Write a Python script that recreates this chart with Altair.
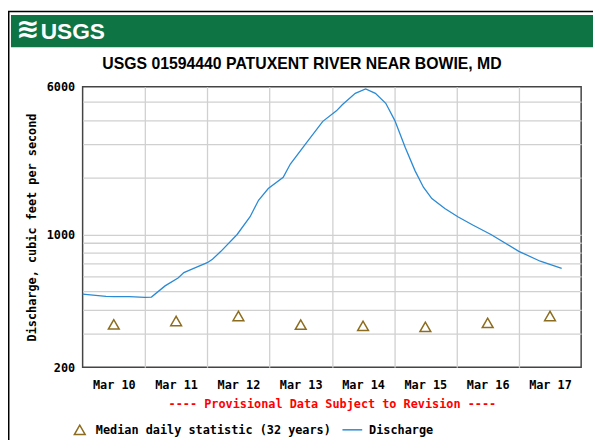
import altair as alt
import pandas as pd

# ---------------- data ----------------
FLOW_TIMES = [
    "2019-03-10T00:00Z", "2019-03-10T09:00Z", "2019-03-10T12:00Z", "2019-03-10T18:00Z",
    "2019-03-11T00:00Z", "2019-03-11T02:30Z", "2019-03-11T07:45Z", "2019-03-11T12:45Z",
    "2019-03-11T15:00Z", "2019-03-11T19:00Z", "2019-03-12T00:00Z", "2019-03-12T02:00Z",
    "2019-03-12T05:15Z", "2019-03-12T11:30Z", "2019-03-12T16:30Z", "2019-03-12T19:45Z",
    "2019-03-12T23:30Z", "2019-03-13T05:15Z", "2019-03-13T08:00Z", "2019-03-13T14:15Z",
    "2019-03-13T20:30Z", "2019-03-14T01:45Z", "2019-03-14T04:00Z", "2019-03-14T09:00Z",
    "2019-03-14T13:00Z", "2019-03-14T16:45Z", "2019-03-14T20:45Z", "2019-03-15T00:15Z",
    "2019-03-15T04:15Z", "2019-03-15T08:00Z", "2019-03-15T11:15Z", "2019-03-15T14:30Z",
    "2019-03-15T19:30Z", "2019-03-16T00:30Z", "2019-03-16T06:15Z", "2019-03-16T13:15Z",
    "2019-03-17T00:00Z", "2019-03-17T08:15Z", "2019-03-17T16:30Z",
]
FLOW_CFS = [
    485, 472, 470, 470,
    466, 468, 536, 590,
    630, 665, 710, 740,
    815, 1000, 1240, 1515,
    1745, 2000, 2350, 3045,
    3945, 4480, 4820, 5540,
    5840, 5540, 4910, 3980,
    2870, 2170, 1775, 1546,
    1370, 1240, 1122, 1000,
    815, 723, 662,
]
MEDIAN_TIMES = [
    "2019-03-10T12:00Z", "2019-03-11T12:00Z", "2019-03-12T12:00Z", "2019-03-13T12:00Z",
    "2019-03-14T12:00Z", "2019-03-15T12:00Z", "2019-03-16T12:00Z", "2019-03-17T12:00Z",
]
MEDIAN_CFS = [336, 350, 372, 335, 330, 326, 342, 372]

SERIES = ["Median daily statistic (32 years)", "Discharge"]
X_DAYS = [10, 11, 12, 13, 14, 15, 16, 17]
Y_GRID = [200, 300, 400, 500, 600, 700, 800, 900, 1000, 2000, 3000, 4000, 5000, 6000]
Y_LABELS = [200, 1000, 6000]
TITLE = "USGS 01594440 PATUXENT RIVER NEAR BOWIE, MD"
X_TITLE = "---- Provisional Data Subject to Revision ----"
Y_TITLE = "Discharge, cubic feet per second"

# ---------------- style ----------------
MONO = "DejaVu Sans Mono"
SANS = "Liberation Sans Narrow, Arial Narrow, Liberation Sans, Arial, sans-serif"
BLUE = "#2a8ad4"
BROWN = "#8c6d1f"
GREEN = "#0f7443"
W, H = 505, 284

flow_df = pd.DataFrame({"time": FLOW_TIMES, "cfs": FLOW_CFS, "series": SERIES[1]})
med_df = pd.DataFrame({"time": MEDIAN_TIMES, "cfs": MEDIAN_CFS, "series": SERIES[0]})

x_scale = alt.Scale(
    type="utc",
    domain=[alt.DateTime(year=2019, month=3, date=10, utc=True),
            alt.DateTime(year=2019, month=3, date=18, utc=True)],
)
x_axis = alt.Axis(
    values=[alt.DateTime(year=2019, month=3, date=d, utc=True) for d in X_DAYS],
    format="%b %d",
    labelOffset=W / 16,
    labelAlign="center",
    labelOverlap=False,
    labelFlush=False,
    labelPadding=13,
    ticks=False,
    tickSize=0,
    domain=False,
    grid=True,
    gridOpacity={"condition": {"test": "datum.index == 0", "value": 0}, "value": 1},
    title=X_TITLE,
    titleColor="#ff0000",
    titleFont=MONO,
    titleFontSize=12,
    titleFontWeight="bold",
    titlePadding=8,
)
y_scale = alt.Scale(type="log", domain=[200, 6000], nice=False)
label_test = " || ".join(f"datum.value == {v}" for v in Y_LABELS)
y_axis = alt.Axis(
    values=Y_GRID,
    labelExpr=f"({label_test}) ? datum.value : ''",
    labelPadding=8,
    ticks=False,
    tickSize=0,
    domain=False,
    grid=True,
    gridOpacity={"condition": {"test": "datum.value == 200 || datum.value == 6000", "value": 0}, "value": 1},
    title=Y_TITLE,
    titleFont=MONO,
    titleFontSize=12,
    titleFontWeight="bold",
    titlePadding=7.5,
)
legend_common = dict(
    title=None,
    orient="none",
    direction="horizontal",
    labelFont=MONO,
    labelFontSize=12,
    labelFontWeight="bold",
    labelColor="black",
    symbolStrokeWidth=1.5,
    padding=0,
    labelLimit=400,
)
legend_median = alt.Legend(legendX=-9.4, legendY=341, labelOffset=9.8, symbolSize=120,
                           symbolType="triangle-up", **legend_common)
legend_flow = alt.Legend(legendX=262.2, legendY=336.5, labelOffset=6, symbolSize=400,
                         symbolType="stroke", **legend_common)

X = alt.X("time:T", scale=x_scale, axis=x_axis)
Y = alt.Y("cfs:Q", scale=y_scale, axis=y_axis)

line = alt.Chart(flow_df).mark_line(strokeWidth=1.3).encode(
    x=X, y=Y,
    color=alt.Color("series:N", scale=alt.Scale(domain=[SERIES[1]], range=[BLUE]), legend=legend_flow),
)
points = alt.Chart(med_df).mark_point(
    filled=False, strokeWidth=1.5, opacity=1, size=120, color=BROWN
).encode(
    x=X, y=Y,
    shape=alt.Shape("series:N", scale=alt.Scale(domain=[SERIES[0]], range=["triangle-up"]),
                    legend=legend_median),
)

one = pd.DataFrame({"k": [0]})
frame = alt.Chart(one).mark_rect(fill=None, stroke="black", strokeWidth=1.5).encode(
    x=alt.value(-74.85), x2=alt.value(600), y=alt.value(-76.25), y2=alt.value(500)
)
header = alt.Chart(one).mark_rect(fill=GREEN).encode(
    x=alt.value(-72.6), x2=alt.value(600), y=alt.value(-72.7), y2=alt.value(-40)
)
waves = alt.Chart(one).mark_text(
    text="≋", color="white", font="DejaVu Sans", fontSize=28, fontWeight="bold",
    align="center", baseline="middle"
).encode(x=alt.value(-55.6), y=alt.value(-57))
logo = alt.Chart(one).mark_text(
    text="USGS", color="white", font=SANS, fontSize=23, fontWeight="bold",
    align="left", baseline="alphabetic"
).encode(x=alt.value(-42.5), y=alt.value(-48.8))
title = alt.Chart(one).mark_text(
    text=TITLE, color="black", font=SANS, fontSize=16, fontWeight="bold",
    align="center", baseline="middle"
).encode(x=alt.value(222.2), y=alt.value(-23.3))

chart = (
    alt.layer(frame, header, waves, logo, title, line, points)
    .resolve_legend(color="independent", shape="independent")
    .properties(
        width=W,
        height=H,
        autosize="none",
        padding={"left": 75.6, "top": 77, "right": 12, "bottom": 71},
    )
    .configure_view(stroke="#444444", strokeWidth=1.5)
    .configure_axis(
        gridColor="#d0d0d0",
        gridWidth=1.3,
        labelFont=MONO,
        labelFontSize=12,
        labelFontWeight="bold",
        labelColor="black",
        titleColor="black",
    )
)

chart.save("out.html", embed_options={"renderer": "svg", "actions": False})
